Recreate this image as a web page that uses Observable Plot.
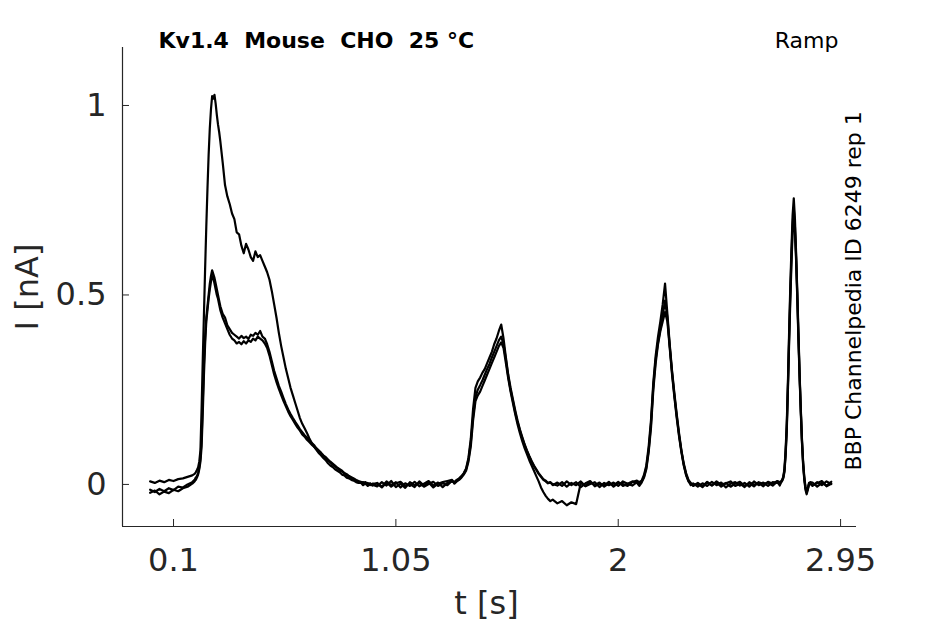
<!DOCTYPE html>
<html>
<head>
<meta charset="utf-8">
<script src="https://cdn.jsdelivr.net/npm/d3@7"></script>
<script src="https://cdn.jsdelivr.net/npm/@observablehq/plot@0.6"></script>
<style>
html, body { margin: 0; padding: 0; background: #fff; }
svg { display: block; }
svg text { white-space: pre; }
</style>
</head>
<body>
<script>
// sample times [s]
const t = [
  0,0.02,0.04,0.06,0.08,0.1,0.12,0.14,0.16,0.18,
  0.19,0.195,0.2,0.205,0.21,0.215,0.22,0.225,0.23,0.235,0.24,0.245,0.25,0.255,0.26,0.265,0.27,0.275,0.28,0.285,0.29,0.295,0.3,
  0.31,0.32,0.33,0.34,0.35,0.36,0.37,0.38,0.39,0.4,
  0.41,0.42,0.43,0.44,0.45,0.46,0.47,0.48,0.49,0.5,
  0.51,0.52,0.53,0.54,0.55,0.56,0.57,0.58,0.59,0.6,
  0.61,0.62,0.63,0.64,0.65,0.66,0.67,0.68,0.69,0.7,
  0.71,0.72,0.73,0.74,0.75,0.76,0.77,0.78,0.79,0.8,
  0.81,0.82,0.83,0.84,0.85,0.86,0.87,0.88,0.89,0.9,
  0.91,0.92,0.93,0.94,0.95,
  0.97,0.99,1.01,1.03,1.05,1.07,1.09,1.11,1.13,1.15,1.17,1.19,1.21,1.23,1.25,1.27,1.29,
  1.3,1.31,1.32,1.33,1.34,1.35,1.36,1.37,1.38,1.39,
  1.4,1.41,1.42,1.43,1.44,1.45,1.46,1.47,1.48,1.49,
  1.5,1.51,1.52,1.53,1.54,1.55,1.56,1.57,1.58,1.59,
  1.6,1.61,1.62,1.63,1.64,1.65,1.66,1.67,1.68,1.69,
  1.7,1.71,1.72,
  1.74,1.76,1.78,1.8,1.82,1.84,1.86,1.88,1.9,1.92,1.94,1.96,1.98,2,2.02,2.04,2.06,2.08,
  2.09,2.1,2.11,2.12,2.13,2.14,2.15,2.16,2.17,2.18,2.19,2.2,2.21,2.22,2.23,2.24,2.25,2.26,2.27,2.28,2.29,2.3,2.31,2.32,
  2.34,2.36,2.38,2.4,2.42,2.44,2.46,2.48,2.5,2.52,2.54,2.56,2.58,2.6,2.62,2.64,2.66,2.68,
  2.69,2.695,2.7,2.705,2.71,2.715,2.72,2.725,2.73,2.735,2.74,2.745,2.75,2.755,2.76,2.765,2.77,2.775,2.78,2.785,2.79,2.795,2.8,2.805,2.81,2.815,2.82,
  2.83,2.85,2.87,2.89,2.91
];

// current [nA], sweep with the large first peak
const sweepA = [
  0.008,0.004,0.010,0.006,0.012,0.009,0.014,0.016,0.020,0.024,
  0.028,0.032,0.038,0.045,0.06,0.09,0.20,0.33,0.45,0.57,0.68,0.78,0.87,0.94,0.99,1.025,1.018,1.028,1.005,0.975,0.95,0.93,0.905,
  0.85,0.79,0.76,0.74,0.715,0.70,0.665,0.66,0.63,0.61,
  0.635,0.62,0.60,0.59,0.615,0.60,0.605,0.59,0.575,0.56,
  0.54,0.51,0.475,0.44,0.40,0.365,0.335,0.305,0.28,0.255,
  0.235,0.215,0.195,0.175,0.16,0.148,0.136,0.122,0.11,0.10,
  0.092,0.083,0.077,0.07,0.064,0.056,0.05,0.046,0.04,0.036,
  0.032,0.026,0.024,0.018,0.016,0.012,0.01,0.006,0.004,0.005,
  -0.002,0.003,-0.004,0.002,-0.003,
  0.004,-0.006,0.008,-0.002,0.006,-0.008,0.003,-0.004,0.007,-0.005,0.002,0.009,-0.003,0.005,-0.007,0.004,0.008,
  0.006,0.012,0.016,0.022,0.03,0.042,0.07,0.12,0.2,0.255,
  0.272,0.282,0.295,0.305,0.32,0.335,0.35,0.37,0.385,0.405,
  0.422,0.385,0.335,0.29,0.255,0.225,0.195,0.168,0.145,0.125,
  0.106,0.09,0.075,0.062,0.05,0.04,0.03,0.022,0.014,0.01,
  0.004,0.006,-0.002,
  0.005,-0.004,0.008,-0.002,0.006,-0.007,0.003,0.009,-0.005,0.002,-0.003,0.007,-0.006,0.004,0.001,-0.004,0.006,0.01,
  0.006,0.01,0.025,0.05,0.1,0.17,0.27,0.34,0.39,0.43,0.475,0.53,0.45,0.37,0.3,0.24,0.185,0.135,0.09,0.055,0.03,0.012,0.004,-0.004,
  0.004,-0.005,0.007,-0.002,0.005,-0.006,0.003,0.008,-0.004,0.002,-0.007,0.006,-0.001,0.004,-0.005,0.007,0.002,0.009,
  0.006,0.008,0.012,0.02,0.04,0.09,0.16,0.27,0.4,0.52,0.62,0.71,0.755,0.7,0.61,0.51,0.4,0.29,0.2,0.12,0.06,0.02,-0.006,-0.018,-0.01,0.004,0.002,
  -0.004,0.006,-0.002,0.008,0.001
];

const sweepB = [
  -0.014,-0.020,-0.012,-0.018,-0.010,-0.015,-0.006,-0.008,0.000,0.006,
  0.012,0.018,0.022,0.03,0.045,0.07,0.12,0.22,0.32,0.39,0.44,0.47,0.50,0.53,0.55,0.565,0.555,0.545,0.53,0.515,0.50,0.485,0.47,
  0.45,0.44,0.42,0.41,0.40,0.395,0.39,0.385,0.392,0.386,
  0.39,0.384,0.395,0.392,0.40,0.395,0.405,0.39,0.385,0.37,
  0.35,0.325,0.30,0.28,0.26,0.245,0.228,0.212,0.198,0.186,
  0.175,0.165,0.156,0.146,0.138,0.13,0.124,0.116,0.11,0.104,
  0.096,0.09,0.084,0.077,0.072,0.066,0.06,0.055,0.05,0.044,
  0.04,0.036,0.03,0.027,0.022,0.019,0.016,0.012,0.009,0.007,
  0.004,0.006,0.001,0.003,-0.001,
  -0.005,0.006,-0.003,0.009,-0.007,0.002,-0.009,0.006,-0.002,0.004,-0.006,0.001,0.007,-0.004,0.003,-0.002,0.01,
  0.004,0.009,0.014,0.02,0.028,0.04,0.065,0.11,0.18,0.23,
  0.25,0.262,0.275,0.29,0.305,0.318,0.335,0.35,0.365,0.38,
  0.39,0.37,0.33,0.285,0.25,0.22,0.19,0.165,0.142,0.122,
  0.104,0.088,0.074,0.06,0.048,0.038,0.028,0.02,0.012,0.008,
  0.003,0.005,0.001,
  -0.003,0.006,-0.006,0.004,-0.002,0.008,-0.005,0.001,0.006,-0.007,0.004,-0.002,0.005,-0.004,0.008,0.002,-0.003,0.006,
  0.002,0.008,0.02,0.045,0.09,0.16,0.26,0.33,0.375,0.41,0.445,0.485,0.44,0.365,0.295,0.235,0.18,0.13,0.088,0.052,0.026,0.01,-0.002,0.003,
  -0.006,0.003,-0.004,0.007,-0.002,0.005,-0.008,0.002,0.006,-0.003,0.004,-0.006,0.008,-0.002,0.005,-0.004,0.006,0.004,
  0.002,0.006,0.01,0.018,0.036,0.08,0.15,0.26,0.385,0.5,0.6,0.685,0.73,0.68,0.6,0.5,0.39,0.285,0.195,0.115,0.055,0.016,-0.01,-0.022,-0.012,0.002,0.006,
  0.005,-0.006,0.004,-0.003,0.007
];

// sweep that undershoots after the third pulse
const sweepC = [
  -0.022,-0.016,-0.026,-0.019,-0.023,-0.014,-0.018,-0.010,-0.006,0.002,
  0.008,0.012,0.018,0.026,0.04,0.06,0.10,0.19,0.29,0.37,0.43,0.46,0.49,0.515,0.535,0.55,0.545,0.53,0.515,0.50,0.49,0.475,0.46,
  0.44,0.425,0.41,0.395,0.385,0.38,0.372,0.376,0.37,0.378,
  0.372,0.38,0.376,0.385,0.38,0.39,0.385,0.38,0.372,0.36,
  0.34,0.315,0.29,0.27,0.252,0.236,0.22,0.206,0.192,0.18,
  0.17,0.16,0.15,0.142,0.132,0.126,0.118,0.112,0.105,0.1,
  0.093,0.086,0.08,0.075,0.068,0.063,0.058,0.052,0.047,0.043,
  0.037,0.034,0.029,0.024,0.021,0.016,0.014,0.01,0.008,0.004,
  0.006,0.001,0.004,-0.002,0.002,
  0.002,-0.008,0.005,-0.006,0.003,0.007,-0.004,0.001,-0.007,0.008,-0.003,0.005,-0.008,0.002,0.006,0.009,0.012,
  0.002,0.008,0.012,0.018,0.026,0.036,0.06,0.1,0.17,0.22,
  0.235,0.245,0.26,0.275,0.29,0.305,0.32,0.335,0.35,0.365,
  0.375,0.36,0.32,0.28,0.245,0.215,0.185,0.158,0.135,0.114,
  0.096,0.08,0.064,0.05,0.036,0.022,0.008,-0.008,-0.02,-0.03,
  -0.038,-0.044,-0.04,
  -0.05,-0.044,-0.055,-0.047,-0.052,0.004,-0.004,0.006,-0.002,0.005,-0.006,0.003,-0.003,0.007,-0.004,0.002,0.008,0.004,
  -0.004,0.005,0.018,0.04,0.085,0.15,0.25,0.32,0.37,0.405,0.43,0.455,0.43,0.36,0.29,0.23,0.175,0.126,0.085,0.05,0.024,0.008,0.002,-0.003,
  0.002,-0.007,0.005,-0.003,0.008,-0.001,0.004,-0.006,0.002,0.007,-0.004,0.003,-0.005,0.006,0.001,0.005,-0.003,0.008,
  -0.003,0.004,0.009,0.016,0.032,0.075,0.14,0.25,0.37,0.48,0.58,0.665,0.71,0.665,0.59,0.49,0.38,0.28,0.19,0.11,0.05,0.012,-0.014,-0.026,-0.014,0,0.004,
  -0.002,0.003,0.009,-0.005,0.002
];

const sweepNames = ["sweep 1", "sweep 2", "sweep 3"];
const xTicks = [0.1, 1.05, 2, 2.95];
const xTickLabels = ["0.1", "1.05", "2", "2.95"];
const yTicks = [0, 0.5, 1];
const yTickLabels = ["0", "0.5", "1"];
const xDomain = [-0.118, 3.018];
const yDomain = [-0.111, 1.153];
const titleText = "Kv1.4  Mouse  CHO  25 °C";
const protocolText = "Ramp";
const sideText = "BBP Channelpedia ID 6249 rep 1";
const xLabel = "t [s]";
const yLabel = "I [nA]";

[sweepA, sweepB, sweepC].forEach((s, k) => {
  if (s.length !== t.length) throw new Error(`length mismatch sweep ${k}: ${s.length} vs ${t.length}`);
});

const rows = [sweepA, sweepB, sweepC].flatMap((vals, k) =>
  vals.map((v, i) => ({sweep: sweepNames[k], t: t[i], I: v})));

const W = 945, H = 624, mT = 47, mR = 89, mB = 98, mL = 122;
const frameW = W - mL - mR, frameH = H - mT - mB;
const ink = "#262626";

const chart = Plot.plot({
  width: W, height: H,
  marginTop: mT, marginRight: mR, marginBottom: mB, marginLeft: mL,
  x: {domain: xDomain},
  y: {domain: yDomain},
  style: {fontFamily: "'DejaVu Sans', sans-serif", background: "#fff", color: ink, overflow: "visible"},
  marks: [
    Plot.ruleX(xTicks, {x: d => d, insetTop: frameH - 7, stroke: ink, strokeWidth: 1}),
    Plot.ruleY(yTicks, {y: d => d, insetRight: frameW - 7, stroke: ink, strokeWidth: 1}),
    Plot.ruleX([xDomain[0]], {stroke: ink, strokeWidth: 1.2}),
    Plot.ruleY([yDomain[0]], {stroke: ink, strokeWidth: 1.2}),
    Plot.axisX(xTicks, {tickSize: 0, tickPadding: 22, fontSize: 32, fill: ink,
      tickFormat: d => xTickLabels[xTicks.indexOf(d)], label: null}),
    Plot.axisY(yTicks, {tickSize: 0, tickPadding: 16, fontSize: 32, fill: ink,
      tickFormat: d => yTickLabels[yTicks.indexOf(d)], label: null}),
    Plot.line(rows, {x: "t", y: "I", z: "sweep", stroke: "#000", strokeWidth: 2.2, strokeLinejoin: "round"}),
    Plot.text([xLabel], {text: d => d, frameAnchor: "bottom", dx: -3, dy: 87, lineAnchor: "bottom", fontSize: 32, fill: ink}),
    Plot.text([yLabel], {text: d => d, frameAnchor: "left", dx: 37 - mL, rotate: -90, textAnchor: "middle", lineAnchor: "bottom", fontSize: 32, fill: ink}),
    Plot.text([titleText], {text: d => d, frameAnchor: "top-left", dx: 36, textAnchor: "start", lineAnchor: "bottom", fontSize: 22, fontWeight: "bold", fill: "#000"}),
    Plot.text([protocolText], {text: d => d, frameAnchor: "top-right", dx: -18, textAnchor: "end", lineAnchor: "bottom", fontSize: 22, fill: "#000"}),
    Plot.text([sideText], {text: d => d, frameAnchor: "bottom-right", dx: 4, dy: -56, rotate: -90, textAnchor: "start", lineAnchor: "bottom", fontSize: 22, fill: "#000"})
  ]
});
document.body.appendChild(chart);
</script>
</body>
</html>
